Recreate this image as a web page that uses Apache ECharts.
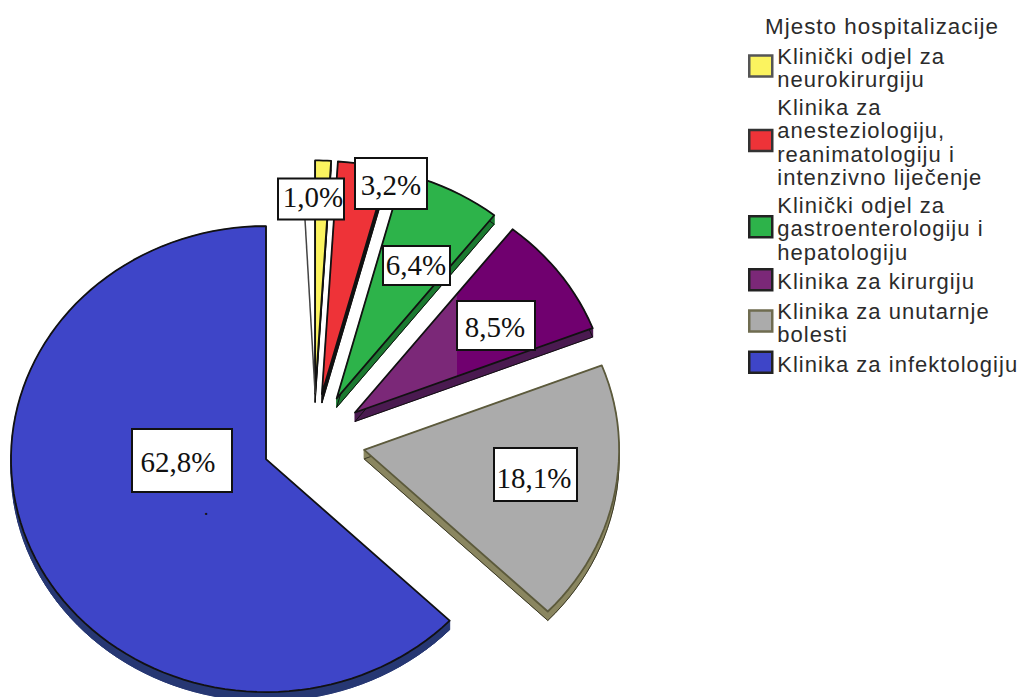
<!DOCTYPE html>
<html>
<head>
<meta charset="utf-8">
<title>Mjesto hospitalizacije</title>
<script src="https://cdn.jsdelivr.net/npm/echarts@6/dist/echarts.min.js"></script>
<style>
  html, body { margin: 0; padding: 0; background: #fff; }
  #main { width: 1021px; height: 697px; }
  /* legend text is spaced out in the original, canvas can't do this so svg + css */
  text[style*="Liberation Sans"] { letter-spacing: 1.02px; }
</style>
</head>
<body>
<div id="main"></div>
<script>
var legendTitle = 'Mjesto hospitalizacije'
var categories = [
  'Klinički odjel za\nneurokirurgiju',
  'Klinika za\nanesteziologiju,\nreanimatologiju i\nintenzivno liječenje',
  'Klinički odjel za\ngastroenterologiju i\nhepatologiju',
  'Klinika za kirurgiju',
  'Klinika za unutarnje\nbolesti',
  'Klinika za infektologiju'
]
var percents = [1.0, 3.2, 6.4, 8.5, 18.1, 62.8]

var faceColors = ['#fbf35f', '#ee3338', '#2db34a', '#7b2878', '#ababab', '#3e45c8']
var sideColors = ['#222', '#111', '#1b7a30', '#4a1a50', '#8a8660', '#263773']
var edgeColors = ['#111', '#111', '#111', '#111', '#5c5a3c', '#111']
var sideEdges = ['#111', '#111', '#111', '#111', '#3a3826', '#263773']
var swatchEdges = ['#555', '#333', '#222', '#222', '#6f6c50', '#222']

// pie geometry, in pixels
var cx = 313.5, cy = 440.6, rx = 255, ry = 233
var explode = 0.2025
var depth = 9
var W = 1021, H = 697

// label boxes are hand placed in the original: centre x, centre y, width, height, text x, text y
var labelBoxes = [
  [311, 199, 66, 41, 313, 197],
  [391, 183.5, 72, 51, 391, 185],
  [416.5, 265.5, 67, 39, 416, 265],
  [496, 325.5, 78, 49, 495, 327],
  [535.5, 474.5, 83, 53, 534, 478],
  [182, 460.5, 100, 63, 178, 462]
]

// swatches sit a little above the middle of their text, the trailing move makes that room
var swatchIcon = 'path://M0 0L23 0L23 21L0 21Z M23 25'

var starts = []
var sum = 0
percents.forEach(function (p) { starts.push(sum); sum += p })

function unit(pct, r) {
  var a = pct / 100 * Math.PI * 2
  return [Math.sin(a) * (r || 1), Math.cos(a) * (r || 1)]
}

function apexOf(i) {
  return unit(starts[i] + percents[i] / 2, explode)
}

function faceFill(i) {
  // the purple slice is two toned in the original, hard break at the label box
  if (i !== 3) return faceColors[i]
  return new echarts.graphic.LinearGradient(0, 0, W, 0, [
    { offset: 0, color: faceColors[3] },
    { offset: 457 / W, color: faceColors[3] },
    { offset: 457 / W, color: '#70006f' },
    { offset: 1, color: '#70006f' }
  ], true)
}

function renderSlice(i, api) {
  var apex = apexOf(i)
  var pts = [api.coord(apex)]
  var val = api.value(1)
  var steps = Math.max(4, Math.round(val * 1.5))
  for (var s = 0; s <= steps; s++) {
    var u = unit(starts[i] + val * s / steps)
    pts.push(api.coord([apex[0] + u[0], apex[1] + u[1]]))
  }
  var children = []
  var sideStyle = { fill: sideColors[i], stroke: sideColors[i], lineWidth: 0.6 }
  var lower = []
  for (var k = 0; k < pts.length; k++) {
    var a = pts[k], b = pts[(k + 1) % pts.length]
    lower.push([a[0], a[1] + depth])
    children.push({
      type: 'polygon',
      shape: { points: [a, b, [b[0], b[1] + depth], [a[0], a[1] + depth]] },
      style: sideStyle
    })
  }
  children.push({
    type: 'polygon',
    shape: { points: lower },
    style: { fill: sideColors[i], stroke: sideEdges[i], lineWidth: 1 }
  })
  children.push({
    type: 'polygon',
    shape: { points: pts },
    style: { fill: faceFill(i), stroke: edgeColors[i], lineWidth: 1.8, lineJoin: 'round' }
  })
  return { type: 'group', children: children }
}

function renderLabel(params, api) {
  var i = params.dataIndex
  var box = labelBoxes[i]
  var children = []
  if (i === 0) {
    // leader line from the 1,0% box down to its slice
    children.push({
      type: 'line',
      shape: { x1: box[0] - 6, y1: box[1] + box[3] / 2, x2: api.coord(apexOf(0))[0], y2: api.coord(apexOf(0))[1] },
      style: { stroke: '#444', lineWidth: 1.5 }
    })
  }
  children.push({
    type: 'rect',
    shape: { x: box[0] - box[2] / 2, y: box[1] - box[3] / 2, width: box[2], height: box[3] },
    style: { fill: '#fff', stroke: '#111', lineWidth: 2 }
  })
  children.push({
    type: 'text',
    style: {
      x: box[4], y: box[5],
      text: api.value(1).toFixed(1).replace('.', ',') + '%',
      font: '29px "Liberation Serif"',
      fill: '#111',
      align: 'center',
      verticalAlign: 'middle'
    }
  })
  return { type: 'group', children: children }
}

var series = categories.map(function (name, i) {
  return {
    name: name,
    type: 'custom',
    coordinateSystem: 'cartesian2d',
    clip: false,
    silent: true,
    itemStyle: { color: faceColors[i] },
    renderItem: function (params, api) { return renderSlice(i, api) },
    data: [[i, percents[i]]]
  }
})
series.push({
  name: 'labels',
  type: 'custom',
  coordinateSystem: 'cartesian2d',
  clip: false,
  silent: true,
  z: 5,
  renderItem: renderLabel,
  data: percents.map(function (p, i) { return [i, p] })
})

var chart = echarts.init(document.getElementById('main'), null, { renderer: 'svg', width: W, height: H })
chart.setOption({
  animation: false,
  backgroundColor: '#fff',
  tooltip: { show: false },
  title: {
    text: legendTitle,
    left: 765,
    top: 15,
    padding: 0,
    textStyle: { fontFamily: 'Liberation Sans', fontSize: 22.4, fontWeight: 'normal', color: '#2b2b2b' }
  },
  legend: {
    orient: 'vertical',
    left: 748,
    top: 44.5,
    icon: swatchIcon,
    itemWidth: 23,
    itemHeight: 25,
    itemGap: 4,
    padding: 0,
    selectedMode: false,
    data: categories.map(function (name, i) {
      return { name: name, icon: swatchIcon, itemStyle: { color: faceColors[i], borderColor: swatchEdges[i], borderWidth: 2.5 } }
    }),
    textStyle: {
      fontFamily: 'Liberation Sans',
      fontSize: 22,
      lineHeight: 23.5,
      color: '#2b2b2b'
    }
  },
  grid: { left: 0, right: 0, top: 0, bottom: 0, containLabel: false },
  xAxis: { type: 'value', show: false, min: -cx / rx, max: (W - cx) / rx },
  yAxis: { type: 'value', show: false, min: (cy - H) / ry, max: cy / ry },
  graphic: [
    // stray speck under the 62,8% box in the original
    { type: 'text', x: 204, y: 500, z: 10, silent: true, style: { text: '.', font: '18px "Liberation Serif"', fill: '#111' } }
  ],
  series: series
})
</script>
</body>
</html>
